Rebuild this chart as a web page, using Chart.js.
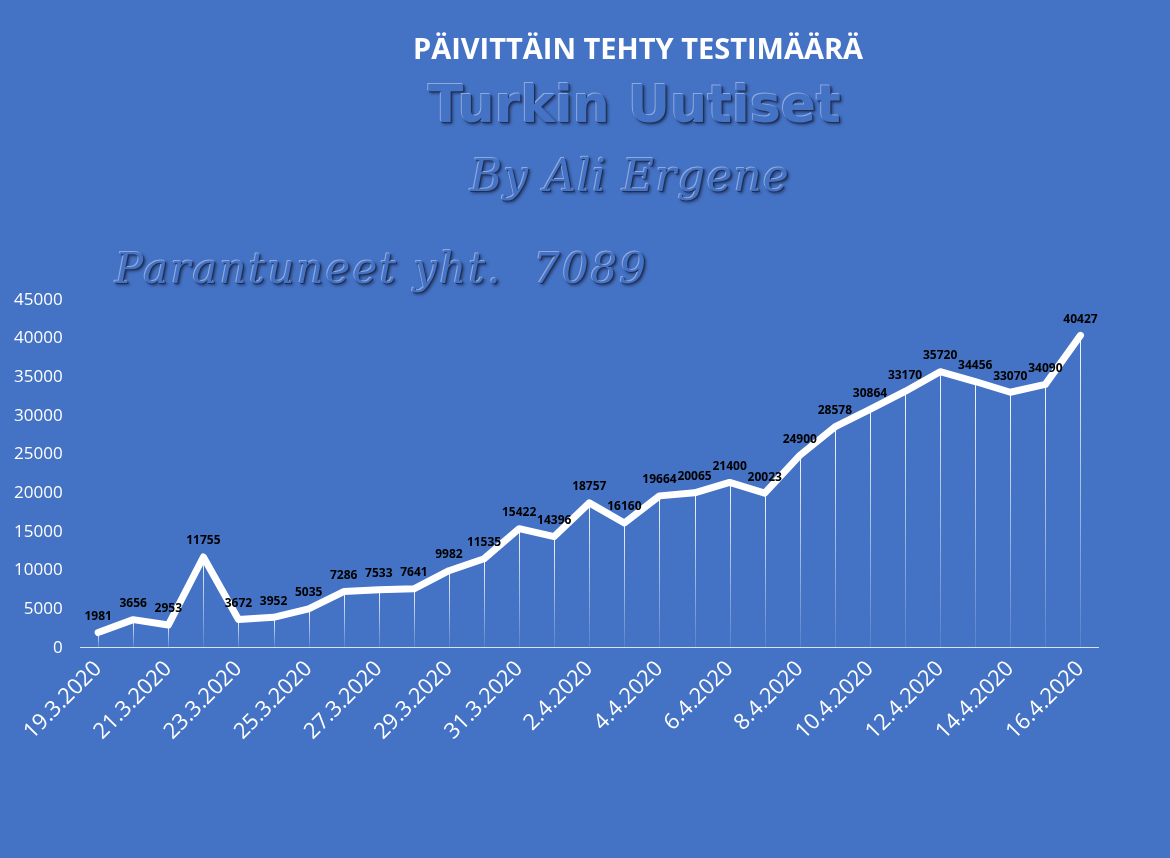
<!DOCTYPE html>
<html>
<head>
<meta charset="utf-8">
<script src="https://cdn.jsdelivr.net/npm/chart.js@4/dist/chart.umd.min.js"></script>
<style>
  html, body { margin: 0; padding: 0; background: #4472C4; }
  #wrap { position: relative; width: 1170px; height: 858px; }
  .txt { position: absolute; white-space: nowrap; }
  #title { left: 638px; top: 28px; transform: translateX(-50%); color: #fff;
    font: bold 29px 'Open Sans', sans-serif; }
  .emb { color: #4472C4; text-shadow: 1px 1px 0 #1f2f55, -1px -1px 0 #8fa9dc, 2px 2px 3px #22345c; }
  #wm1 { left: 428px; top: 74px; font: bold 52px 'DejaVu Sans', sans-serif; letter-spacing: 0px; }
  #wm2 { left: 470px; top: 150px; font: italic 44px 'DejaVu Serif', serif; letter-spacing: 1px; }
  #wm3 { left: 115px; top: 244px; font: italic 42px 'DejaVu Serif', serif; letter-spacing: 2px; }
</style>
</head>
<body>
<div id="wrap">
  <canvas id="c" width="1170" height="858"></canvas>
  <div class="txt" id="title">PÄIVITTÄIN TEHTY TESTIMÄÄRÄ</div>
  <div class="txt emb" id="wm1">Turkin Uutiset</div>
  <div class="txt emb" id="wm2">By Ali Ergene</div>
  <div class="txt emb" id="wm3">Parantuneet yht.&nbsp; 7089</div>
</div>
<script>
// --- Datos ---
const DATES = ['19.3.2020','20.3.2020','21.3.2020','22.3.2020','23.3.2020','24.3.2020','25.3.2020',
  '26.3.2020','27.3.2020','28.3.2020','29.3.2020','30.3.2020','31.3.2020','1.4.2020','2.4.2020',
  '3.4.2020','4.4.2020','5.4.2020','6.4.2020','7.4.2020','8.4.2020','9.4.2020','10.4.2020',
  '11.4.2020','12.4.2020','13.4.2020','14.4.2020','15.4.2020','16.4.2020'];
const TESTS = [1981,3656,2953,11755,3672,3952,5035,7286,7533,7641,9982,11535,15422,14396,18757,
  16160,19664,20065,21400,20023,24900,28578,30864,33170,35720,34456,33070,34090,40427];

// Líneas verticales y etiquetas de valor
const dropLines = {
  id: 'dropLines',
  beforeDatasetsDraw(chart) {
    const { ctx, scales: { y } } = chart;
    const meta = chart.getDatasetMeta(0);
    const base = y.getPixelForValue(0);
    ctx.save();
    meta.data.forEach(p => {
      const g = ctx.createLinearGradient(0, p.y, 0, base);
      g.addColorStop(0, 'rgba(255,255,255,0.95)');
      g.addColorStop(1, 'rgba(255,255,255,0.1)');
      ctx.strokeStyle = g;
      ctx.lineWidth = 1;
      ctx.beginPath();
      ctx.moveTo(Math.round(p.x) + 0.5, p.y);
      ctx.lineTo(Math.round(p.x) + 0.5, base);
      ctx.stroke();
    });
    ctx.restore();
  },
  afterDatasetsDraw(chart) {
    const { ctx } = chart;
    const meta = chart.getDatasetMeta(0);
    ctx.save();
    ctx.fillStyle = '#000';
    ctx.font = "bold 12px 'Open Sans', sans-serif";
    ctx.textAlign = 'center';
    ctx.textBaseline = 'bottom';
    meta.data.forEach((p, i) => ctx.fillText(TESTS[i], p.x, p.y - 10));
    ctx.restore();
  }
};

new Chart(document.getElementById('c'), {
  type: 'line',
  data: {
    labels: DATES,
    datasets: [{
      data: TESTS,
      borderColor: '#fff',
      borderWidth: 7,
      pointRadius: 0,
      tension: 0,
      borderCapStyle: 'round',
      borderJoinStyle: 'round',
    }],
  },
  options: {
    responsive: false,
    animation: false,
    layout: { padding: { top: 300, left: 4, right: 72, bottom: 105 } },
    plugins: { legend: { display: false }, title: { display: false }, tooltip: { enabled: false } },
    scales: {
      x: {
        offset: true,
        grid: { display: false, drawTicks: false },
        border: { color: 'rgba(255,255,255,0.8)', width: 1 },
        ticks: {
          color: '#fff',
          font: { family: "'Open Sans', sans-serif", size: 22 },
          maxRotation: 45, minRotation: 45,
          autoSkip: false,
          padding: 8,
          callback: (v, i) => i % 2 === 0 ? DATES[i] : null,
        },
      },
      y: {
        min: 0, max: 45000,
        grid: { display: false },
        border: { display: false },
        ticks: {
          stepSize: 5000,
          color: '#fff',
          padding: 10,
          font: { family: "'Open Sans', sans-serif", size: 17 },
          callback: v => String(v),
        },
      },
    },
  },
  plugins: [dropLines],
});
</script>
</body>
</html>
